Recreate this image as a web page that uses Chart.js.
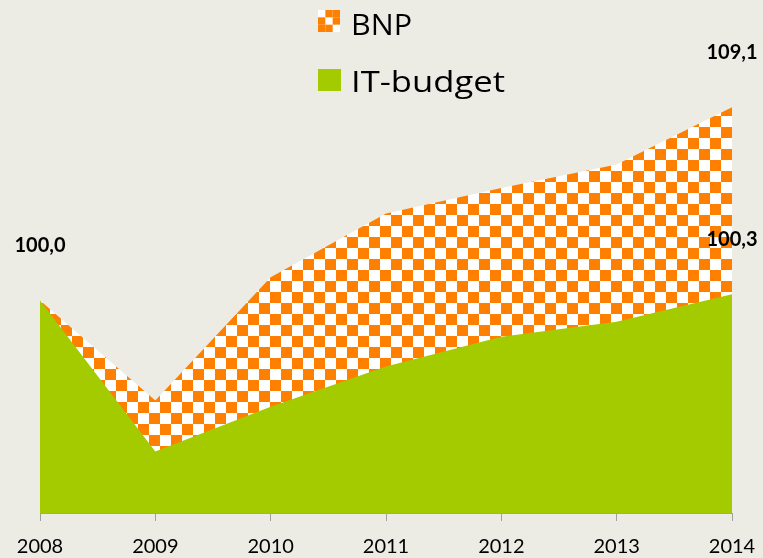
<!DOCTYPE html>
<html>
<head>
<meta charset="utf-8">
<script src="https://cdn.jsdelivr.net/npm/chart.js@4/dist/chart.umd.min.js"></script>
<style>
  html, body { margin: 0; padding: 0; background: #ecece4; }
  #wrap { width: 763px; height: 558px; }
</style>
</head>
<body>
<div id="wrap"><canvas id="c" width="763" height="558"></canvas></div>
<script>
// ---- data ----
const years = ['2008', '2009', '2010', '2011', '2012', '2013', '2014'];
const bnpValues = [100.0, 95.3, 101.1, 104.1, 105.3, 106.4, 109.1];
const itBudgetValues = [100.0, 92.9, 95.0, 96.9, 98.3, 99.0, 100.3];
const seriesNames = ['BNP', 'IT-budget'];
// points that carry a value label: [series index, category index]
const labelledPoints = [[0, 0], [0, 6], [1, 6]];

// ---- styles ----
const BG = '#ecece4';
const ORANGE = '#ff8000';
const GREEN = '#a4ca00';
const FONT = 'Lato, "Open Sans", sans-serif';

function makeChecker(cell, offX, offY) {
  const t = document.createElement('canvas');
  t.width = cell * 2; t.height = cell * 2;
  const g = t.getContext('2d');
  g.fillStyle = '#ffffff'; g.fillRect(0, 0, cell * 2, cell * 2);
  g.fillStyle = ORANGE;
  g.fillRect(0, 0, cell, cell);
  g.fillRect(cell, cell, cell, cell);
  const p = document.createElement('canvas').getContext('2d').createPattern(t, 'repeat');
  p.setTransform(new DOMMatrix().translate(offX, offY));
  return p;
}
const checker = makeChecker(11, 6, 6);

const bgPlugin = {
  id: 'bg',
  beforeDraw(chart) {
    const ctx = chart.ctx;
    ctx.save();
    ctx.fillStyle = BG;
    ctx.fillRect(0, 0, chart.width, chart.height);
    ctx.restore();
  }
};

function drawFitted(ctx, text, x, y, targetW) {
  const w = ctx.measureText(text).width;
  const s = targetW / w;
  ctx.save();
  ctx.translate(x, y);
  ctx.scale(s, 1);
  ctx.fillText(text, 0, 0);
  ctx.restore();
}

const legendPlugin = {
  id: 'customLegend',
  afterDraw(chart) {
    const ctx = chart.ctx;
    ctx.save();
    // BNP marker: small checker square
    const mx = 318, my = 10, ms = 22, c = ms / 3;
    ctx.fillStyle = '#ffffff';
    ctx.fillRect(mx, my, ms, ms);
    ctx.fillStyle = ORANGE;
    [[1, 0], [2, 0], [0, 1], [2, 1], [0, 2], [1, 2]].forEach(([i, j]) => {
      ctx.fillRect(mx + i * c, my + j * c, c, c);
    });
    // IT-budget marker
    ctx.fillStyle = GREEN;
    ctx.fillRect(318, 69, 23, 22);
    // texts
    ctx.fillStyle = '#000000';
    ctx.font = '30px "Open Sans", Lato, sans-serif';
    ctx.textBaseline = 'alphabetic';
    ctx.textAlign = 'left';
    drawFitted(ctx, chart.data.datasets[0].label, 351, 35, 61);
    drawFitted(ctx, chart.data.datasets[1].label, 351, 92, 154);
    ctx.restore();
  }
};

const valueLabelPlugin = {
  id: 'valueLabels',
  afterDatasetsDraw(chart) {
    const ctx = chart.ctx;
    ctx.save();
    ctx.fillStyle = '#000000';
    ctx.font = 'bold 20px ' + FONT;
    ctx.textAlign = 'center';
    ctx.textBaseline = 'middle';
    labelledPoints.forEach(([ds, idx]) => {
      const v = chart.data.datasets[ds].data[idx];
      const x = chart.scales.x.getPixelForValue(idx);
      const y = chart.scales.y.getPixelForValue(v);
      ctx.fillText(v.toFixed(1).replace('.', ','), x, y - 55);
    });
    ctx.restore();
  }
};

new Chart(document.getElementById('c'), {
  type: 'line',
  data: {
    labels: years,
    datasets: [
      {
        label: seriesNames[0],
        data: bnpValues,
        backgroundColor: checker,
        borderWidth: 0,
        pointRadius: 0,
        fill: 'start',
        tension: 0,
        order: 2
      },
      {
        label: seriesNames[1],
        data: itBudgetValues,
        backgroundColor: GREEN,
        borderWidth: 0,
        pointRadius: 0,
        fill: 'start',
        tension: 0,
        order: 1
      }
    ]
  },
  options: {
    responsive: false,
    animation: false,
    layout: { padding: { top: 88, left: 40, right: 31, bottom: 0 } },
    plugins: {
      legend: { display: false },
      tooltip: { enabled: false },
      title: { display: false }
    },
    scales: {
      x: {
        type: 'category',
        offset: false,
        grid: {
          display: true,
          drawOnChartArea: false,
          drawTicks: true,
          tickLength: 8,
          color: '#a0a0a0',
          lineWidth: 1
        },
        border: { display: true, color: '#a0a0a0', width: 1, z: 1 },
        ticks: {
          color: '#000000',
          font: { family: FONT, size: 20 },
          padding: 14,
          maxRotation: 0,
          autoSkip: false
        },
        afterFit(scale) {
          scale.height = 45;
          scale.paddingLeft = 0;
          scale.paddingRight = 0;
        }
      },
      y: {
        display: false,
        min: 90,
        max: 110
      }
    }
  },
  plugins: [bgPlugin, legendPlugin, valueLabelPlugin]
});
</script>
</body>
</html>
